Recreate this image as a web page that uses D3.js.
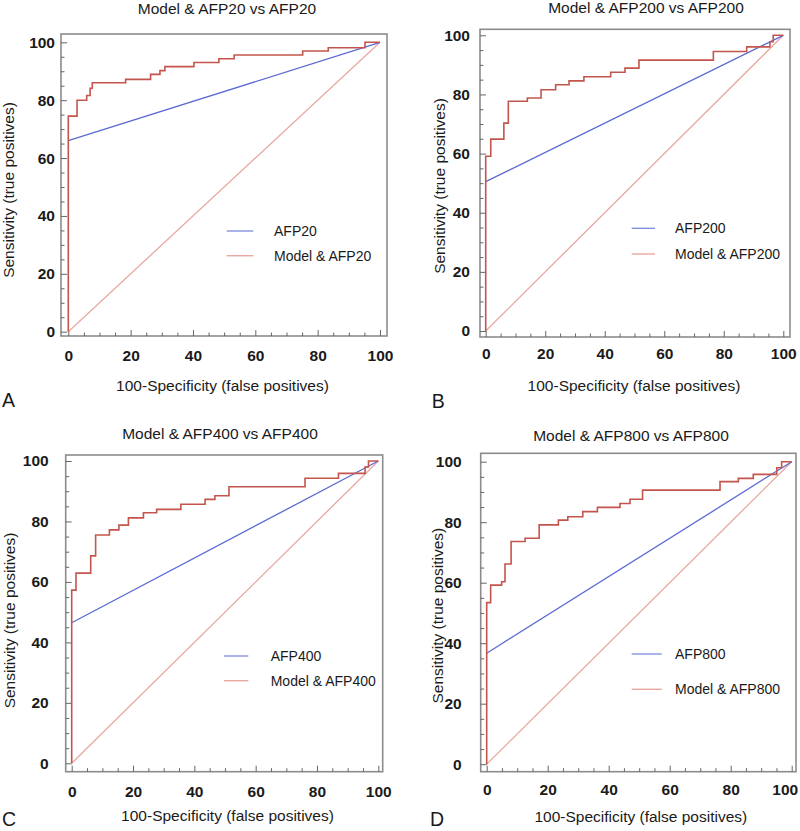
<!DOCTYPE html>
<html>
<head>
<meta charset="utf-8">
<script src="https://cdn.jsdelivr.net/npm/d3@7"></script>
<style>
  html, body { margin: 0; padding: 0; background: #fff; }
  svg { display: block; }
  text { font-family: "Liberation Sans", Arial, sans-serif; fill: #1a1a1a; }
</style>
</head>
<body>
<svg id="chart" width="800" height="831"></svg>
<script>
// ---------------- DATA ----------------
const panelLetters = ["A", "B", "C", "D"];
const titles = ["Model & AFP20 vs AFP20", "Model & AFP200 vs AFP200", "Model & AFP400 vs AFP400", "Model & AFP800 vs AFP800"];
const afpNames = ["AFP20", "AFP200", "AFP400", "AFP800"];
const modelNames = ["Model & AFP20", "Model & AFP200", "Model & AFP400", "Model & AFP800"];
const xAxisTitle = "100-Specificity (false positives)";
const yAxisTitle = "Sensitivity (true positives)";
const tickLabels = [0, 20, 40, 60, 80, 100];
const minorTicks = [5, 10, 15, 25, 30, 35, 45, 50, 55, 65, 70, 75, 85, 90, 95];

// Model & AFP ROC operating points (100-specificity, sensitivity), step corners
const fprA = [0, 0, 2.8, 5.9, 7.0, 7.7, 18.4, 26.4, 29.4, 31.0, 40.3, 48.3, 53.2, 75.2, 83.4, 95.2, 100];
const tprA = [0, 74.5, 80.0, 81.6, 84.1, 86.0, 87.2, 88.9, 90.2, 91.6, 93.0, 94.3, 95.6, 97.0, 98.1, 100, 100];

const fprB = [0, 0, 1.7, 6.1, 7.6, 14.0, 18.6, 23.5, 28.0, 33.0, 42.0, 46.8, 51.5, 76.5, 87.7, 95.5, 96.6, 100];
const tprB = [0, 59.1, 64.9, 70.3, 77.7, 78.8, 81.6, 83.3, 84.6, 86.0, 87.5, 88.9, 91.6, 94.5, 96.1, 97.8, 100, 100];

const fprC = [0, 0, 1.4, 6.2, 7.8, 12.3, 15.4, 18.5, 23.4, 27.7, 35.6, 43.5, 46.7, 51.3, 76.1, 87.0, 95.7, 96.8, 100];
const tprC = [0, 57.3, 62.9, 68.6, 75.5, 77.2, 78.8, 81.2, 82.9, 84.0, 85.7, 87.3, 88.5, 91.5, 94.3, 95.9, 98.0, 100, 100];

const fprD = [0, 0, 1.3, 4.9, 6.0, 8.0, 12.6, 17.2, 23.5, 26.6, 31.5, 36.3, 43.7, 47.0, 51.1, 76.5, 82.5, 87.4, 95.1, 96.7, 100];
const tprD = [0, 53.4, 59.2, 60.3, 66.2, 73.6, 74.7, 79.1, 80.7, 81.8, 83.5, 84.9, 86.2, 87.6, 90.6, 93.4, 94.5, 95.8, 98.0, 100, 100];

// AFP single cut-off ROC (sensitivity at 100-specificity = 0, then to 100/100)
const afpFpr = [0, 100];
const afpTprA = [66.0, 100];
const afpTprB = [50.5, 100];
const afpTprC = [46.5, 100];
const afpTprD = [36.7, 100];

// reference diagonal
const diagFpr = [0, 100];
const diagTpr = [0, 100];

const modelFpr = [fprA, fprB, fprC, fprD];
const modelTpr = [tprA, tprB, tprC, tprD];
const afpTpr = [afpTprA, afpTprB, afpTprC, afpTprD];

// ---------------- LAYOUT ----------------
const layout = [
  {frame:[61,34,387,336], xr:[68.3,380], yr:[331.7,42.3], title:[227,13.5], xlab:[222.5,390.5], ylab:[13.5,190], letter:[2,407], ypad:6, xpad:14, lastDx:0, leg:{x1:226.7,x2:253.3,y1:231,y2:255.7,tx:274}},
  {frame:[480,29.3,790,337], xr:[485.7,783.3], yr:[331,35.3], title:[646,12.7], xlab:[634,390.5], ylab:[445,186], letter:[431.7,408.3], ypad:10, xpad:11, lastDx:0, leg:{x1:631.7,x2:655,y1:228.3,y2:254,tx:675}},
  {frame:[65.7,455,382.7,771.7], xr:[71.7,378.3], yr:[763.3,461], title:[220,439.3], xlab:[227.5,820.7], ylab:[14.5,620.5], letter:[2,826], ypad:17, xpad:14.5, lastDx:0, leg:{x1:224,x2:248.3,y1:656,y2:680.7,tx:270.7}},
  {frame:[480.7,453.3,796,771.7], xr:[486.7,791.7], yr:[764.2,461.7], title:[631,440.7], xlab:[640.8,822], ylab:[443.3,615.7], letter:[430,826], ypad:19, xpad:12.3, lastDx:-7, leg:{x1:631.7,x2:661.7,y1:654,y2:689.3,tx:675}}
];

const colModel = "#c4554c";
const colAfp = "#5b6bd3";
const colDiag = "#e8a8a0";
const colFrame = "#8c8c8c";

const svg = d3.select("#chart");

panelLetters.forEach((letter, i) => {
  const L = layout[i];
  const x = d3.scaleLinear().domain([0, 100]).range(L.xr);
  const y = d3.scaleLinear().domain([0, 100]).range(L.yr);
  const [fl, ft, fr, fb] = L.frame;
  const g = svg.append("g");

  // frame
  g.append("rect").attr("x", fl).attr("y", ft).attr("width", fr - fl).attr("height", fb - ft)
    .attr("fill", "none").attr("stroke", colFrame).attr("stroke-width", 1.6);

  // axes: major
  const yAxis = d3.axisLeft(y).tickValues(tickLabels).tickSize(-6).tickPadding(L.ypad);
  const yg = g.append("g").attr("transform", `translate(${fl},0)`).call(yAxis);
  const xAxis = d3.axisBottom(x).tickValues(tickLabels).tickSize(-6).tickPadding(L.xpad);
  const xg = g.append("g").attr("transform", `translate(0,${fb})`).call(xAxis);
  // minor
  const yg2 = g.append("g").attr("transform", `translate(${fl},0)`)
    .call(d3.axisLeft(y).tickValues(minorTicks).tickSize(-3.5).tickFormat(""));
  const xg2 = g.append("g").attr("transform", `translate(0,${fb})`)
    .call(d3.axisBottom(x).tickValues(minorTicks).tickSize(-3.5).tickFormat(""));
  [yg, xg, yg2, xg2].forEach(a => {
    a.select(".domain").remove();
    a.selectAll(".tick line").attr("stroke", "#666").attr("stroke-width", 1);
  });
  [yg, xg].forEach(a => a.selectAll(".tick text")
    .attr("font-family", '"Liberation Sans", Arial, sans-serif')
    .attr("font-size", 15.5).attr("font-weight", "bold").attr("fill", "#2a2a2a"));
  xg.selectAll(".tick text").filter(d => d === 100).attr("dx", L.lastDx);

  // diagonal
  const lin = d3.line().x(d => x(d[0])).y(d => y(d[1]));
  g.append("path").datum(d3.zip(diagFpr, diagTpr)).attr("d", lin)
    .attr("fill", "none").attr("stroke", colDiag).attr("stroke-width", 1.3);

  // AFP line
  g.append("path").datum(d3.zip(afpFpr, afpTpr[i])).attr("d", lin)
    .attr("fill", "none").attr("stroke", colAfp).attr("stroke-width", 1.3);

  // model step curve
  const step = d3.line().x(d => x(d[0])).y(d => y(d[1])).curve(d3.curveStepAfter);
  g.append("path").datum(d3.zip(modelFpr[i], modelTpr[i])).attr("d", step)
    .attr("fill", "none").attr("stroke", colModel).attr("stroke-width", 1.6);

  // title
  g.append("text").attr("x", L.title[0]).attr("y", L.title[1]).attr("text-anchor", "middle")
    .attr("font-size", 15.5).text(titles[i]);
  // x label
  g.append("text").attr("x", L.xlab[0]).attr("y", L.xlab[1]).attr("text-anchor", "middle")
    .attr("font-size", 15.5).text(xAxisTitle);
  // y label
  g.append("text").attr("transform", `translate(${L.ylab[0]},${L.ylab[1]}) rotate(-90)`)
    .attr("text-anchor", "middle").attr("font-size", 15.5).text(yAxisTitle);
  // panel letter
  g.append("text").attr("x", L.letter[0]).attr("y", L.letter[1])
    .attr("font-size", 19.5).text(letter);

  // legend
  const lg = L.leg;
  g.append("line").attr("x1", lg.x1).attr("x2", lg.x2).attr("y1", lg.y1).attr("y2", lg.y1)
    .attr("stroke", colAfp).attr("stroke-width", 1.2).attr("opacity", 0.85);
  g.append("line").attr("x1", lg.x1).attr("x2", lg.x2).attr("y1", lg.y2).attr("y2", lg.y2)
    .attr("stroke", colDiag).attr("stroke-width", 1.4);
  g.append("text").attr("x", lg.tx).attr("y", lg.y1).attr("dy", "0.35em")
    .attr("font-size", 14).text(afpNames[i]);
  g.append("text").attr("x", lg.tx).attr("y", lg.y2).attr("dy", "0.35em")
    .attr("font-size", 14).text(modelNames[i]);
});
</script>
</body>
</html>
